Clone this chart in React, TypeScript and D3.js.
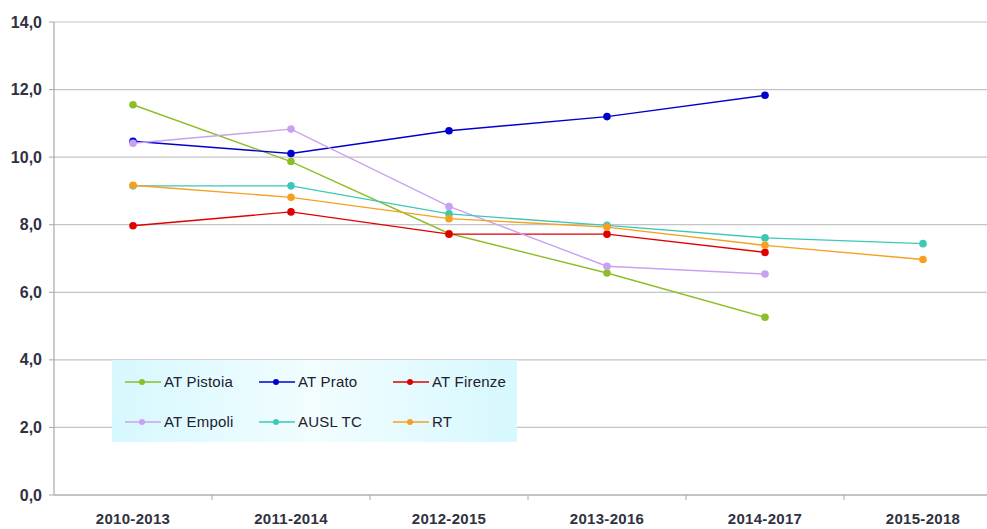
import React from "react";
import * as d3 from "d3";

const categories = ["2010-2013", "2011-2014", "2012-2015", "2013-2016", "2014-2017", "2015-2018"];
const yTicks = [0, 2, 4, 6, 8, 10, 12, 14];

const pistoia = [11.55, 9.87, 7.74, 6.57, 5.26, null];
const prato = [10.47, 10.11, 10.78, 11.2, 11.83, null];
const firenze = [7.97, 8.38, 7.72, 7.72, 7.18, null];
const empoli = [10.41, 10.83, 8.54, 6.77, 6.54, null];
const ausl = [9.15, 9.15, 8.32, 7.98, 7.61, 7.44];
const rt = [9.17, 8.81, 8.18, 7.93, 7.39, 6.97];

const seriesNames = ["AT Pistoia", "AT Prato", "AT Firenze", "AT Empoli", "AUSL TC", "RT"];
const seriesColors = ["#8DBE2A", "#0000CC", "#E00000", "#C8A2F2", "#3CC8B8", "#F5A020"];
const seriesData = [pistoia, prato, firenze, empoli, ausl, rt];

export default function App() {
  const W = 987, H = 529;
  const left = 54, right = 1002, top = 22, bottom = 495;
  const x = d3.scaleBand<string>().domain(categories).range([left, right]);
  const y = d3.scaleLinear().domain([0, 14]).range([bottom, top]);
  const line = d3
    .line<number | null>()
    .defined((d) => d != null)
    .x((_, i) => (x(categories[i]) as number) + x.bandwidth() / 2)
    .y((d) => y(d as number));
  const font = "'Liberation Sans', Arial, sans-serif";
  const legendCols = [125, 259, 393];
  const legendRows = [382, 422];

  return (
    <svg width={W} height={H} style={{ position: "absolute", left: 0, top: 0, background: "#fff" }}>
      <defs>
        <linearGradient id="lg" x1="0" x2="1" y1="0" y2="0">
          <stop offset="0" stopColor="#D6F8FE" />
          <stop offset="0.5" stopColor="#F2FDFF" />
          <stop offset="1" stopColor="#D6F8FE" />
        </linearGradient>
      </defs>
      {yTicks.map((t) => (
        <g key={t}>
          {t > 0 && <line x1={left} x2={W} y1={y(t)} y2={y(t)} stroke="#C4C4C4" strokeWidth={1.2} />}
          <line x1={left - 5} x2={left} y1={y(t)} y2={y(t)} stroke="#A8A8A8" />
          <text x={42} y={y(t)} dy="0.35em" textAnchor="end" fontFamily={font} fontWeight="bold" fontSize={16} fill="#30323F">
            {t.toFixed(1).replace(".", ",")}
          </text>
        </g>
      ))}
      <line x1={left} x2={left} y1={top} y2={bottom} stroke="#A8A8A8" strokeWidth={1.2} />
      <line x1={left} x2={W} y1={bottom} y2={bottom} stroke="#B0B0B0" strokeWidth={1.5} />
      {categories.map((c, i) => (
        <g key={c}>
          {i > 0 && <line x1={x(c)} x2={x(c)} y1={bottom} y2={bottom + 5} stroke="#A8A8A8" />}
          <text x={(x(c) as number) + x.bandwidth() / 2} y={519} dy="0.35em" textAnchor="middle" fontFamily={font} fontWeight="bold" fontSize={15} letterSpacing={0.3} fill="#30323F">
            {c}
          </text>
        </g>
      ))}
      <rect x={112} y={360} width={405} height={82} fill="url(#lg)" />
      {seriesData.map((s, k) => (
        <g key={seriesNames[k]}>
          <path d={line(s) || ""} fill="none" stroke={seriesColors[k]} strokeWidth={1.4} />
          {s.map((v, i) =>
            v == null ? null : (
              <circle key={i} cx={(x(categories[i]) as number) + x.bandwidth() / 2} cy={y(v)} r={3.8} fill={seriesColors[k]} />
            )
          )}
        </g>
      ))}
      {seriesNames.map((n, k) => {
        const lx = legendCols[k % 3];
        const ly = legendRows[Math.floor(k / 3)];
        return (
          <g key={n}>
            <line x1={lx} x2={lx + 36} y1={ly} y2={ly} stroke={seriesColors[k]} strokeWidth={1.4} />
            <circle cx={lx + 17} cy={ly} r={3} fill={seriesColors[k]} />
            <text x={lx + 39} y={ly} dy="0.35em" fontFamily={font} fontSize={15} letterSpacing={0.2} fill="#202030">
              {n}
            </text>
          </g>
        );
      })}
    </svg>
  );
}
